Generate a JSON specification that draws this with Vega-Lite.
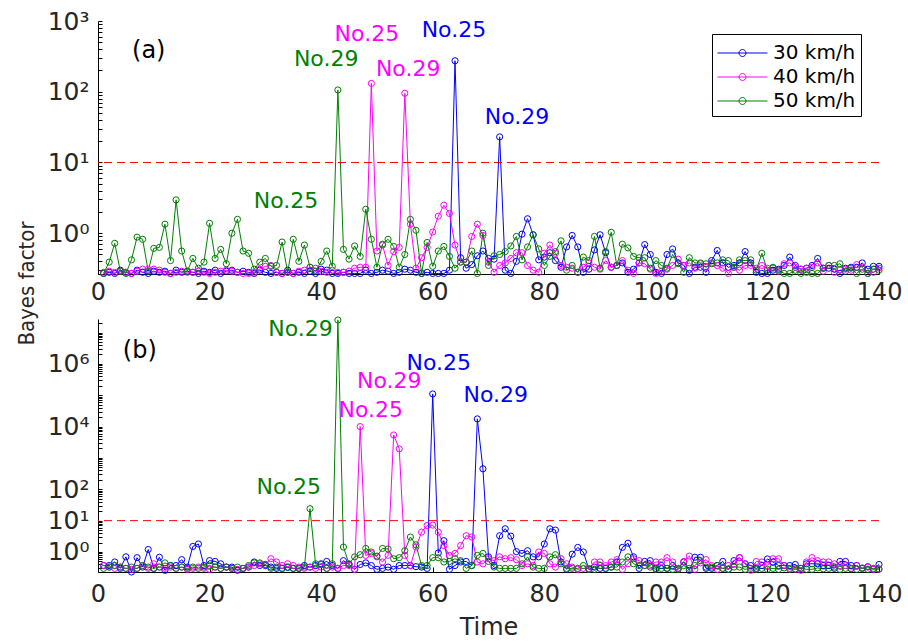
{
  "$schema": "https://vega.github.io/schema/vega-lite/v6.json",
  "padding": {"left": 15, "top": 9, "right": 5, "bottom": 3},
  "bounds": "flush",
  "spacing": 45,
  "config": {
    "view": {"stroke": null},
    "axis": {
      "grid": false,
      "domainColor": "black",
      "tickColor": "black",
      "labelColor": "#262626",
      "labelFont": "DejaVu Sans",
      "labelFontSize": 24,
      "labelFlush": false,
      "labelOverlap": false,
      "labelBound": false,
      "titleFontWeight": "normal",
      "titleColor": "#262626"
    },
    "axisY": {
      "titleFont": "Liberation Sans Narrow, Arial Narrow, DejaVu Sans Condensed, sans-serif",
      "titleFontSize": 22,
      "titleAlign": "center",
      "titleBaseline": "bottom",
      "titleAngle": 270,
      "titleX": -60,
      "titleY": 262
    }
  },
  "datasets": {
    "a": [
      {"t":1,"30 km/h":0.27,"40 km/h":0.28,"50 km/h":0.27},{"t":2,"30 km/h":0.28,"40 km/h":0.29,"50 km/h":0.39},{"t":3,"30 km/h":0.27,"40 km/h":0.28,"50 km/h":0.72},{"t":4,"30 km/h":0.30,"40 km/h":0.29,"50 km/h":0.29},{"t":5,"30 km/h":0.28,"40 km/h":0.28,"50 km/h":0.27},
      {"t":6,"30 km/h":0.27,"40 km/h":0.27,"50 km/h":0.42},{"t":7,"30 km/h":0.30,"40 km/h":0.29,"50 km/h":0.88},{"t":8,"30 km/h":0.28,"40 km/h":0.31,"50 km/h":0.82},{"t":9,"30 km/h":0.27,"40 km/h":0.31,"50 km/h":0.29},{"t":10,"30 km/h":0.29,"40 km/h":0.31,"50 km/h":0.61},
      {"t":11,"30 km/h":0.28,"40 km/h":0.30,"50 km/h":0.63},{"t":12,"30 km/h":0.29,"40 km/h":0.28,"50 km/h":1.34},{"t":13,"30 km/h":0.27,"40 km/h":0.27,"50 km/h":0.41},{"t":14,"30 km/h":0.30,"40 km/h":0.28,"50 km/h":2.96},{"t":15,"30 km/h":0.28,"40 km/h":0.29,"50 km/h":0.56},
      {"t":16,"30 km/h":0.29,"40 km/h":0.28,"50 km/h":0.29},{"t":17,"30 km/h":0.28,"40 km/h":0.28,"50 km/h":0.44},{"t":18,"30 km/h":0.27,"40 km/h":0.29,"50 km/h":0.32},{"t":19,"30 km/h":0.29,"40 km/h":0.28,"50 km/h":0.39},{"t":20,"30 km/h":0.28,"40 km/h":0.27,"50 km/h":1.38},
      {"t":21,"30 km/h":0.30,"40 km/h":0.28,"50 km/h":0.44},{"t":22,"30 km/h":0.27,"40 km/h":0.29,"50 km/h":0.59},{"t":23,"30 km/h":0.29,"40 km/h":0.30,"50 km/h":0.37},{"t":24,"30 km/h":0.30,"40 km/h":0.29,"50 km/h":1.0},{"t":25,"30 km/h":0.28,"40 km/h":0.28,"50 km/h":1.57},
      {"t":26,"30 km/h":0.29,"40 km/h":0.27,"50 km/h":0.56},{"t":27,"30 km/h":0.28,"40 km/h":0.27,"50 km/h":0.52},{"t":28,"30 km/h":0.27,"40 km/h":0.28,"50 km/h":0.31},{"t":29,"30 km/h":0.30,"40 km/h":0.31,"50 km/h":0.39},{"t":30,"30 km/h":0.28,"40 km/h":0.34,"50 km/h":0.44},
      {"t":31,"30 km/h":0.27,"40 km/h":0.35,"50 km/h":0.34},{"t":32,"30 km/h":0.28,"40 km/h":0.28,"50 km/h":0.35},{"t":33,"30 km/h":0.27,"40 km/h":0.27,"50 km/h":0.75},{"t":34,"30 km/h":0.30,"40 km/h":0.28,"50 km/h":0.28},{"t":35,"30 km/h":0.27,"40 km/h":0.27,"50 km/h":0.82},
      {"t":36,"30 km/h":0.28,"40 km/h":0.29,"50 km/h":0.40},{"t":37,"30 km/h":0.27,"40 km/h":0.30,"50 km/h":0.68},{"t":38,"30 km/h":0.29,"40 km/h":0.33,"50 km/h":0.33},{"t":39,"30 km/h":0.27,"40 km/h":0.32,"50 km/h":0.29},{"t":40,"30 km/h":0.31,"40 km/h":0.29,"50 km/h":0.40},
      {"t":41,"30 km/h":0.30,"40 km/h":0.28,"50 km/h":0.56},{"t":42,"30 km/h":0.27,"40 km/h":0.30,"50 km/h":0.34},{"t":43,"30 km/h":0.27,"40 km/h":0.28,"50 km/h":106},{"t":44,"30 km/h":0.28,"40 km/h":0.28,"50 km/h":0.59},{"t":45,"30 km/h":0.27,"40 km/h":0.29,"50 km/h":0.43},
      {"t":46,"30 km/h":0.27,"40 km/h":0.32,"50 km/h":0.66},{"t":47,"30 km/h":0.27,"40 km/h":0.33,"50 km/h":0.47},{"t":48,"30 km/h":0.30,"40 km/h":0.33,"50 km/h":2.18},{"t":49,"30 km/h":0.27,"40 km/h":131,"50 km/h":0.82},{"t":50,"30 km/h":0.28,"40 km/h":0.56,"50 km/h":0.33},
      {"t":51,"30 km/h":0.30,"40 km/h":0.68,"50 km/h":0.70},{"t":52,"30 km/h":0.29,"40 km/h":0.35,"50 km/h":0.82},{"t":53,"30 km/h":0.27,"40 km/h":0.55,"50 km/h":0.65},{"t":54,"30 km/h":0.28,"40 km/h":0.63,"50 km/h":0.33},{"t":55,"30 km/h":0.31,"40 km/h":95,"50 km/h":0.50},
      {"t":56,"30 km/h":0.30,"40 km/h":1.34,"50 km/h":1.57},{"t":57,"30 km/h":0.28,"40 km/h":0.32,"50 km/h":1.1},{"t":58,"30 km/h":0.27,"40 km/h":0.45,"50 km/h":0.27},{"t":59,"30 km/h":0.28,"40 km/h":0.63,"50 km/h":0.74},{"t":60,"30 km/h":0.27,"40 km/h":1.04,"50 km/h":0.34},
      {"t":61,"30 km/h":0.27,"40 km/h":1.74,"50 km/h":0.56},{"t":62,"30 km/h":0.27,"40 km/h":2.49,"50 km/h":0.65},{"t":63,"30 km/h":0.30,"40 km/h":1.9,"50 km/h":0.47},{"t":64,"30 km/h":274,"40 km/h":0.68,"50 km/h":0.32},{"t":65,"30 km/h":0.45,"40 km/h":0.39,"50 km/h":0.39},
      {"t":66,"30 km/h":0.32,"40 km/h":0.39,"50 km/h":0.39},{"t":67,"30 km/h":0.36,"40 km/h":0.9,"50 km/h":0.56},{"t":68,"30 km/h":0.48,"40 km/h":1.34,"50 km/h":0.27},{"t":69,"30 km/h":0.56,"40 km/h":0.93,"50 km/h":1.0},{"t":70,"30 km/h":0.44,"40 km/h":0.39,"50 km/h":0.35},
      {"t":71,"30 km/h":0.43,"40 km/h":0.28,"50 km/h":0.48},{"t":72,"30 km/h":23,"40 km/h":0.35,"50 km/h":0.50},{"t":73,"30 km/h":0.30,"40 km/h":0.38,"50 km/h":0.55},{"t":74,"30 km/h":0.27,"40 km/h":0.44,"50 km/h":0.66},{"t":75,"30 km/h":0.40,"40 km/h":0.53,"50 km/h":0.9},
      {"t":76,"30 km/h":0.97,"40 km/h":0.53,"50 km/h":0.42},{"t":77,"30 km/h":1.6,"40 km/h":0.35,"50 km/h":0.64},{"t":78,"30 km/h":0.95,"40 km/h":0.30,"50 km/h":0.95},{"t":79,"30 km/h":0.42,"40 km/h":0.28,"50 km/h":0.60},{"t":80,"30 km/h":0.46,"40 km/h":0.52,"50 km/h":0.35},
      {"t":81,"30 km/h":0.53,"40 km/h":0.68,"50 km/h":0.47},{"t":82,"30 km/h":0.41,"40 km/h":0.52,"50 km/h":0.55},{"t":83,"30 km/h":0.33,"40 km/h":0.35,"50 km/h":0.78},{"t":84,"30 km/h":0.64,"40 km/h":0.33,"50 km/h":0.30},{"t":85,"30 km/h":0.93,"40 km/h":0.32,"50 km/h":0.35},
      {"t":86,"30 km/h":0.64,"40 km/h":0.28,"50 km/h":0.28},{"t":87,"30 km/h":0.28,"40 km/h":0.33,"50 km/h":0.46},{"t":88,"30 km/h":0.31,"40 km/h":0.38,"50 km/h":0.41},{"t":89,"30 km/h":0.58,"40 km/h":0.33,"50 km/h":0.9},{"t":90,"30 km/h":0.95,"40 km/h":0.31,"50 km/h":0.32},
      {"t":91,"30 km/h":0.53,"40 km/h":0.41,"50 km/h":0.55},{"t":92,"30 km/h":0.33,"40 km/h":0.33,"50 km/h":1.03},{"t":93,"30 km/h":0.35,"40 km/h":0.35,"50 km/h":0.35},{"t":94,"30 km/h":0.38,"40 km/h":0.41,"50 km/h":0.70},{"t":95,"30 km/h":0.28,"40 km/h":0.30,"50 km/h":0.62},
      {"t":96,"30 km/h":0.31,"40 km/h":0.27,"50 km/h":0.47},{"t":97,"30 km/h":0.38,"40 km/h":0.38,"50 km/h":0.45},{"t":98,"30 km/h":0.69,"40 km/h":0.37,"50 km/h":0.45},{"t":99,"30 km/h":0.50,"40 km/h":0.31,"50 km/h":0.32},{"t":100,"30 km/h":0.28,"40 km/h":0.27,"50 km/h":0.41},
      {"t":101,"30 km/h":0.27,"40 km/h":0.29,"50 km/h":0.35},{"t":102,"30 km/h":0.50,"40 km/h":0.31,"50 km/h":0.32},{"t":103,"30 km/h":0.60,"40 km/h":0.35,"50 km/h":0.50},{"t":104,"30 km/h":0.38,"40 km/h":0.43,"50 km/h":0.37},{"t":105,"30 km/h":0.35,"40 km/h":0.35,"50 km/h":0.28},
      {"t":106,"30 km/h":0.27,"40 km/h":0.38,"50 km/h":0.45},{"t":107,"30 km/h":0.33,"40 km/h":0.32,"50 km/h":0.38},{"t":108,"30 km/h":0.33,"40 km/h":0.37,"50 km/h":0.38},{"t":109,"30 km/h":0.28,"40 km/h":0.33,"50 km/h":0.37},{"t":110,"30 km/h":0.41,"40 km/h":0.38,"50 km/h":0.37},
      {"t":111,"30 km/h":0.57,"40 km/h":0.35,"50 km/h":0.38},{"t":112,"30 km/h":0.38,"40 km/h":0.32,"50 km/h":0.42},{"t":113,"30 km/h":0.33,"40 km/h":0.27,"50 km/h":0.41},{"t":114,"30 km/h":0.35,"40 km/h":0.33,"50 km/h":0.33},{"t":115,"30 km/h":0.38,"40 km/h":0.30,"50 km/h":0.42},
      {"t":116,"30 km/h":0.55,"40 km/h":0.35,"50 km/h":0.41},{"t":117,"30 km/h":0.38,"40 km/h":0.35,"50 km/h":0.42},{"t":118,"30 km/h":0.28,"40 km/h":0.32,"50 km/h":0.30},{"t":119,"30 km/h":0.27,"40 km/h":0.35,"50 km/h":0.52},{"t":120,"30 km/h":0.27,"40 km/h":0.32,"50 km/h":0.30},
      {"t":121,"30 km/h":0.30,"40 km/h":0.32,"50 km/h":0.33},{"t":122,"30 km/h":0.31,"40 km/h":0.29,"50 km/h":0.30},{"t":123,"30 km/h":0.35,"40 km/h":0.37,"50 km/h":0.27},{"t":124,"30 km/h":0.46,"40 km/h":0.38,"50 km/h":0.27},{"t":125,"30 km/h":0.35,"40 km/h":0.33,"50 km/h":0.30},
      {"t":126,"30 km/h":0.31,"40 km/h":0.31,"50 km/h":0.27},{"t":127,"30 km/h":0.32,"40 km/h":0.32,"50 km/h":0.28},{"t":128,"30 km/h":0.35,"40 km/h":0.33,"50 km/h":0.27},{"t":129,"30 km/h":0.44,"40 km/h":0.38,"50 km/h":0.27},{"t":130,"30 km/h":0.32,"40 km/h":0.29,"50 km/h":0.32},
      {"t":131,"30 km/h":0.32,"40 km/h":0.35,"50 km/h":0.35},{"t":132,"30 km/h":0.31,"40 km/h":0.28,"50 km/h":0.35},{"t":133,"30 km/h":0.27,"40 km/h":0.30,"50 km/h":0.37},{"t":134,"30 km/h":0.32,"40 km/h":0.31,"50 km/h":0.29},{"t":135,"30 km/h":0.33,"40 km/h":0.30,"50 km/h":0.32},
      {"t":136,"30 km/h":0.33,"40 km/h":0.36,"50 km/h":0.27},{"t":137,"30 km/h":0.38,"40 km/h":0.33,"50 km/h":0.31},{"t":138,"30 km/h":0.31,"40 km/h":0.27,"50 km/h":0.27},{"t":139,"30 km/h":0.34,"40 km/h":0.28,"50 km/h":0.31},{"t":140,"30 km/h":0.34,"40 km/h":0.32,"50 km/h":0.30}
    ],
    "b": [
      {"t":1,"30 km/h":0.37,"40 km/h":0.37,"50 km/h":0.30},{"t":2,"30 km/h":0.37,"40 km/h":0.33,"50 km/h":0.33},{"t":3,"30 km/h":0.48,"40 km/h":0.30,"50 km/h":0.37},{"t":4,"30 km/h":0.30,"40 km/h":0.33,"50 km/h":0.33},{"t":5,"30 km/h":0.70,"40 km/h":0.30,"50 km/h":0.30},
      {"t":6,"30 km/h":0.23,"40 km/h":0.28,"50 km/h":0.33},{"t":7,"30 km/h":0.66,"40 km/h":0.30,"50 km/h":0.30},{"t":8,"30 km/h":0.33,"40 km/h":0.37,"50 km/h":0.37},{"t":9,"30 km/h":1.2,"40 km/h":0.30,"50 km/h":0.33},{"t":10,"30 km/h":0.30,"40 km/h":0.42,"50 km/h":0.30},
      {"t":11,"30 km/h":0.68,"40 km/h":0.33,"50 km/h":0.33},{"t":12,"30 km/h":0.26,"40 km/h":0.30,"50 km/h":0.45},{"t":13,"30 km/h":0.37,"40 km/h":0.33,"50 km/h":0.37},{"t":14,"30 km/h":0.37,"40 km/h":0.30,"50 km/h":0.30},{"t":15,"30 km/h":0.57,"40 km/h":0.33,"50 km/h":0.33},
      {"t":16,"30 km/h":0.33,"40 km/h":0.28,"50 km/h":0.30},{"t":17,"30 km/h":1.5,"40 km/h":0.30,"50 km/h":0.33},{"t":18,"30 km/h":1.8,"40 km/h":0.33,"50 km/h":0.30},{"t":19,"30 km/h":0.37,"40 km/h":0.30,"50 km/h":0.33},{"t":20,"30 km/h":0.53,"40 km/h":0.28,"50 km/h":0.37},
      {"t":21,"30 km/h":0.50,"40 km/h":0.33,"50 km/h":0.33},{"t":22,"30 km/h":0.42,"40 km/h":0.30,"50 km/h":0.30},{"t":23,"30 km/h":0.33,"40 km/h":0.33,"50 km/h":0.33},{"t":24,"30 km/h":0.33,"40 km/h":0.30,"50 km/h":0.30},{"t":25,"30 km/h":0.26,"40 km/h":0.28,"50 km/h":0.33},
      {"t":26,"30 km/h":0.30,"40 km/h":0.30,"50 km/h":0.30},{"t":27,"30 km/h":0.33,"40 km/h":0.33,"50 km/h":0.37},{"t":28,"30 km/h":0.48,"40 km/h":0.37,"50 km/h":0.45},{"t":29,"30 km/h":0.37,"40 km/h":0.42,"50 km/h":0.45},{"t":30,"30 km/h":0.37,"40 km/h":0.40,"50 km/h":0.40},
      {"t":31,"30 km/h":0.33,"40 km/h":0.61,"50 km/h":0.30},{"t":32,"30 km/h":0.30,"40 km/h":0.48,"50 km/h":0.33},{"t":33,"30 km/h":0.30,"40 km/h":0.37,"50 km/h":0.30},{"t":34,"30 km/h":0.32,"40 km/h":0.42,"50 km/h":0.33},{"t":35,"30 km/h":0.30,"40 km/h":0.37,"50 km/h":0.30},
      {"t":36,"30 km/h":0.30,"40 km/h":0.33,"50 km/h":0.30},{"t":37,"30 km/h":0.37,"40 km/h":0.30,"50 km/h":0.33},{"t":38,"30 km/h":0.33,"40 km/h":0.33,"50 km/h":24},{"t":39,"30 km/h":0.37,"40 km/h":0.30,"50 km/h":0.42},{"t":40,"30 km/h":0.42,"40 km/h":0.33,"50 km/h":0.40},
      {"t":41,"30 km/h":0.50,"40 km/h":0.30,"50 km/h":0.30},{"t":42,"30 km/h":0.37,"40 km/h":0.33,"50 km/h":0.42},{"t":43,"30 km/h":0.30,"40 km/h":0.30,"50 km/h":25000000},{"t":44,"30 km/h":0.53,"40 km/h":0.37,"50 km/h":1.44},{"t":45,"30 km/h":0.40,"40 km/h":0.37,"50 km/h":0.42},
      {"t":46,"30 km/h":0.28,"40 km/h":0.28,"50 km/h":0.70},{"t":47,"30 km/h":0.40,"40 km/h":10000,"50 km/h":0.82},{"t":48,"30 km/h":0.45,"40 km/h":0.78,"50 km/h":1.3},{"t":49,"30 km/h":0.37,"40 km/h":0.9,"50 km/h":1.0},{"t":50,"30 km/h":0.28,"40 km/h":0.70,"50 km/h":0.74},
      {"t":51,"30 km/h":0.30,"40 km/h":0.48,"50 km/h":1.3},{"t":52,"30 km/h":0.33,"40 km/h":0.78,"50 km/h":1.25},{"t":53,"30 km/h":0.28,"40 km/h":5400,"50 km/h":0.61},{"t":54,"30 km/h":0.37,"40 km/h":1950,"50 km/h":0.66},{"t":55,"30 km/h":0.37,"40 km/h":0.78,"50 km/h":1.1},
      {"t":56,"30 km/h":0.37,"40 km/h":0.37,"50 km/h":3.0},{"t":57,"30 km/h":0.34,"40 km/h":1.44,"50 km/h":1.7},{"t":58,"30 km/h":0.33,"40 km/h":4.3,"50 km/h":0.37},{"t":59,"30 km/h":0.30,"40 km/h":7.0,"50 km/h":0.37},{"t":60,"30 km/h":110000,"40 km/h":7.2,"50 km/h":0.66},
      {"t":61,"30 km/h":0.93,"40 km/h":4.3,"50 km/h":0.66},{"t":62,"30 km/h":2.3,"40 km/h":1.6,"50 km/h":0.48},{"t":63,"30 km/h":0.28,"40 km/h":0.78,"50 km/h":0.50},{"t":64,"30 km/h":0.37,"40 km/h":0.9,"50 km/h":0.61},{"t":65,"30 km/h":0.48,"40 km/h":1.6,"50 km/h":0.53},
      {"t":66,"30 km/h":0.50,"40 km/h":3.3,"50 km/h":0.30},{"t":67,"30 km/h":0.37,"40 km/h":3.0,"50 km/h":0.37},{"t":68,"30 km/h":17600,"40 km/h":0.48,"50 km/h":0.78},{"t":69,"30 km/h":450,"40 km/h":0.42,"50 km/h":0.9},{"t":70,"30 km/h":0.70,"40 km/h":0.61,"50 km/h":0.50},
      {"t":71,"30 km/h":0.37,"40 km/h":0.53,"50 km/h":0.33},{"t":72,"30 km/h":3.3,"40 km/h":0.70,"50 km/h":0.30},{"t":73,"30 km/h":5.5,"40 km/h":0.61,"50 km/h":0.30},{"t":74,"30 km/h":3.2,"40 km/h":0.66,"50 km/h":0.30},{"t":75,"30 km/h":1.03,"40 km/h":0.57,"50 km/h":0.30},
      {"t":76,"30 km/h":0.9,"40 km/h":0.37,"50 km/h":0.42},{"t":77,"30 km/h":1.1,"40 km/h":0.42,"50 km/h":0.70},{"t":78,"30 km/h":0.7,"40 km/h":0.37,"50 km/h":0.33},{"t":79,"30 km/h":0.7,"40 km/h":1.0,"50 km/h":0.30},{"t":80,"30 km/h":1.8,"40 km/h":0.9,"50 km/h":0.30},
      {"t":81,"30 km/h":5.5,"40 km/h":0.42,"50 km/h":0.70},{"t":82,"30 km/h":5.0,"40 km/h":0.33,"50 km/h":0.82},{"t":83,"30 km/h":0.48,"40 km/h":0.61,"50 km/h":0.42},{"t":84,"30 km/h":0.28,"40 km/h":0.42,"50 km/h":0.30},{"t":85,"30 km/h":0.85,"40 km/h":0.33,"50 km/h":0.30},
      {"t":86,"30 km/h":1.4,"40 km/h":0.28,"50 km/h":0.30},{"t":87,"30 km/h":1.0,"40 km/h":0.30,"50 km/h":0.37},{"t":88,"30 km/h":0.28,"40 km/h":0.30,"50 km/h":0.28},{"t":89,"30 km/h":0.33,"40 km/h":0.48,"50 km/h":0.28},{"t":90,"30 km/h":0.30,"40 km/h":0.48,"50 km/h":0.37},
      {"t":91,"30 km/h":0.30,"40 km/h":0.37,"50 km/h":0.30},{"t":92,"30 km/h":0.33,"40 km/h":0.48,"50 km/h":0.33},{"t":93,"30 km/h":0.48,"40 km/h":0.57,"50 km/h":0.33},{"t":94,"30 km/h":1.4,"40 km/h":0.28,"50 km/h":0.48},{"t":95,"30 km/h":1.9,"40 km/h":0.42,"50 km/h":0.70},
      {"t":96,"30 km/h":0.7,"40 km/h":0.61,"50 km/h":0.42},{"t":97,"30 km/h":0.30,"40 km/h":0.53,"50 km/h":0.37},{"t":98,"30 km/h":0.50,"40 km/h":0.37,"50 km/h":0.37},{"t":99,"30 km/h":0.53,"40 km/h":0.37,"50 km/h":0.33},{"t":100,"30 km/h":0.30,"40 km/h":0.48,"50 km/h":0.28},
      {"t":101,"30 km/h":0.37,"40 km/h":0.48,"50 km/h":0.30},{"t":102,"30 km/h":0.30,"40 km/h":0.66,"50 km/h":0.30},{"t":103,"30 km/h":0.37,"40 km/h":0.48,"50 km/h":0.28},{"t":104,"30 km/h":0.30,"40 km/h":0.30,"50 km/h":0.28},{"t":105,"30 km/h":0.48,"40 km/h":0.50,"50 km/h":0.37},
      {"t":106,"30 km/h":0.26,"40 km/h":0.74,"50 km/h":0.30},{"t":107,"30 km/h":0.68,"40 km/h":0.28,"50 km/h":0.37},{"t":108,"30 km/h":0.68,"40 km/h":0.45,"50 km/h":0.53},{"t":109,"30 km/h":0.30,"40 km/h":0.57,"50 km/h":0.33},{"t":110,"30 km/h":0.30,"40 km/h":0.37,"50 km/h":0.33},
      {"t":111,"30 km/h":0.37,"40 km/h":0.28,"50 km/h":0.37},{"t":112,"30 km/h":0.50,"40 km/h":0.30,"50 km/h":0.30},{"t":113,"30 km/h":0.28,"40 km/h":0.37,"50 km/h":0.28},{"t":114,"30 km/h":0.53,"40 km/h":0.42,"50 km/h":0.33},{"t":115,"30 km/h":0.66,"40 km/h":0.66,"50 km/h":0.33},
      {"t":116,"30 km/h":0.42,"40 km/h":0.42,"50 km/h":0.28},{"t":117,"30 km/h":0.37,"40 km/h":0.26,"50 km/h":0.30},{"t":118,"30 km/h":0.30,"40 km/h":0.50,"50 km/h":0.28},{"t":119,"30 km/h":0.37,"40 km/h":0.48,"50 km/h":0.30},{"t":120,"30 km/h":0.60,"40 km/h":0.37,"50 km/h":0.28},
      {"t":121,"30 km/h":0.48,"40 km/h":0.61,"50 km/h":0.30},{"t":122,"30 km/h":0.37,"40 km/h":0.61,"50 km/h":0.28},{"t":123,"30 km/h":0.37,"40 km/h":0.37,"50 km/h":0.31},{"t":124,"30 km/h":0.37,"40 km/h":0.30,"50 km/h":0.28},{"t":125,"30 km/h":0.40,"40 km/h":0.28,"50 km/h":0.29},
      {"t":126,"30 km/h":0.30,"40 km/h":0.26,"50 km/h":0.30},{"t":127,"30 km/h":0.42,"40 km/h":0.48,"50 km/h":0.28},{"t":128,"30 km/h":0.42,"40 km/h":0.66,"50 km/h":0.28},{"t":129,"30 km/h":0.42,"40 km/h":0.53,"50 km/h":0.31},{"t":130,"30 km/h":0.37,"40 km/h":0.48,"50 km/h":0.29},
      {"t":131,"30 km/h":0.37,"40 km/h":0.48,"50 km/h":0.30},{"t":132,"30 km/h":0.30,"40 km/h":0.42,"50 km/h":0.33},{"t":133,"30 km/h":0.50,"40 km/h":0.37,"50 km/h":0.28},{"t":134,"30 km/h":0.50,"40 km/h":0.37,"50 km/h":0.30},{"t":135,"30 km/h":0.37,"40 km/h":0.30,"50 km/h":0.29},
      {"t":136,"30 km/h":0.37,"40 km/h":0.37,"50 km/h":0.28},{"t":137,"30 km/h":0.30,"40 km/h":0.30,"50 km/h":0.31},{"t":138,"30 km/h":0.34,"40 km/h":0.33,"50 km/h":0.28},{"t":139,"30 km/h":0.28,"40 km/h":0.28,"50 km/h":0.30},{"t":140,"30 km/h":0.40,"40 km/h":0.28,"50 km/h":0.29}
    ],
    "ann": [
      {"panel":"a","t":40.9,"value":289,"series":"50 km/h","label":"No.29"},
      {"panel":"a","t":48.2,"value":653,"series":"40 km/h","label":"No.25"},
      {"panel":"a","t":55.6,"value":209,"series":"40 km/h","label":"No.29"},
      {"panel":"a","t":63.8,"value":743,"series":"30 km/h","label":"No.25"},
      {"panel":"a","t":75.1,"value":43.6,"series":"30 km/h","label":"No.29"},
      {"panel":"a","t":33.7,"value":2.84,"series":"50 km/h","label":"No.25"},
      {"panel":"b","t":36.3,"value":13000000,"series":"50 km/h","label":"No.29"},
      {"panel":"b","t":61.1,"value":1070000,"series":"30 km/h","label":"No.25"},
      {"panel":"b","t":52.2,"value":290000,"series":"40 km/h","label":"No.29"},
      {"panel":"b","t":48.9,"value":34000,"series":"40 km/h","label":"No.25"},
      {"panel":"b","t":71.3,"value":100000,"series":"30 km/h","label":"No.29"},
      {"panel":"b","t":34.2,"value":120,"series":"50 km/h","label":"No.25"}
    ],
    "tags": [
      {"panel":"a","t":9.1,"value":375,"label":"(a)"},
      {"panel":"b","t":7.5,"value":2600000,"label":"(b)"}
    ]
  },
  "vconcat": [
    {
      "width": 781,
      "height": 253,
      "layer": [
        {
          "data": {"name": "a"},
          "transform": [{"fold": ["30 km/h", "40 km/h", "50 km/h"], "as": ["series", "value"]}],
          "mark": {"type": "line", "strokeWidth": 1, "point": {"filled": false, "size": 38, "strokeWidth": 1}},
          "encoding": {
            "x": {"field": "t", "type": "quantitative", "scale": {"domain": [0, 140], "nice": false},
                  "axis": {"title": null, "values": [0, 20, 40, 60, 80, 100, 120, 140], "tickSize": -5, "labelPadding": 11}},
            "y": {"field": "value", "type": "quantitative", "scale": {"type": "log", "domain": [0.265, 1000], "nice": false},
                  "axis": {"title": "Bayes factor",
                           "values": [0.3,0.4,0.5,0.6,0.7,0.8,0.9,1,2,3,4,5,6,7,8,9,10,20,30,40,50,60,70,80,90,100,200,300,400,500,600,700,800,900,1000],
                           "labelExpr": "datum.value == 1 ? '10⁰' : datum.value == 10 ? '10¹' : datum.value == 100 ? '10²' : datum.value == 1000 ? '10³' : ''",
                           "tickSize": -4, "labelPadding": 13, "labelFontSize": 25}},
            "color": {"field": "series", "type": "nominal",
                      "scale": {"domain": ["30 km/h", "40 km/h", "50 km/h"], "range": ["#0000FF", "#FF00FF", "#008000"]},
                      "legend": {"orient": "none", "legendX": 614, "legendY": 13, "title": null,
                                 "symbolType": "M-1.85,0H1.85M-0.26,0A0.26,0.26,0,1,1,0.26,0A0.26,0.26,0,1,1,-0.26,0",
                                 "symbolSize": 729, "symbolStrokeWidth": 1, "symbolFillColor": "transparent",
                                 "labelFont": "DejaVu Sans", "labelFontSize": 20, "labelColor": "black",
                                 "strokeColor": "black", "fillColor": "white", "padding": 5, "rowPadding": 0,
                                 "symbolOffset": 11.5, "labelOffset": 16.5, "cornerRadius": 0,
                                 "encode": {"symbols": {"update": {"fill": {"value": "transparent"}, "fillOpacity": {"value": 0}}}}}}
          }
        },
        {
          "data": {"values": [{}]},
          "mark": {"type": "rule", "color": "#FF0000", "stroke": "#FF0000", "strokeDash": [8, 5], "strokeWidth": 1},
          "encoding": {
            "y": {"datum": 10, "type": "quantitative", "scale": {"type": "log", "domain": [0.265, 1000], "nice": false}}
          }
        },
        {
          "data": {"name": "ann"},
          "transform": [{"filter": "datum.panel == 'a'"}],
          "mark": {"type": "text", "font": "DejaVu Sans", "fontSize": 22, "baseline": "middle", "align": "center"},
          "encoding": {
            "x": {"field": "t", "type": "quantitative", "scale": {"domain": [0, 140], "nice": false}},
            "y": {"field": "value", "type": "quantitative", "scale": {"type": "log", "domain": [0.265, 1000], "nice": false}},
            "text": {"field": "label"},
            "color": {"field": "series", "type": "nominal", "legend": null}
          }
        },
        {
          "data": {"name": "tags"},
          "transform": [{"filter": "datum.panel == 'a'"}],
          "mark": {"type": "text", "font": "DejaVu Sans", "fontSize": 24, "baseline": "middle", "align": "center", "color": "black"},
          "encoding": {
            "x": {"field": "t", "type": "quantitative", "scale": {"domain": [0, 140], "nice": false}},
            "y": {"field": "value", "type": "quantitative", "scale": {"type": "log", "domain": [0.265, 1000], "nice": false}},
            "text": {"field": "label"}
          }
        }
      ]
    },
    {
      "width": 781,
      "height": 253,
      "layer": [
        {
          "data": {"name": "b"},
          "transform": [{"fold": ["30 km/h", "40 km/h", "50 km/h"], "as": ["series", "value"]}],
          "mark": {"type": "line", "strokeWidth": 1, "point": {"filled": false, "size": 38, "strokeWidth": 1}},
          "encoding": {
            "x": {"field": "t", "type": "quantitative", "scale": {"domain": [0, 140], "nice": false},
                  "axis": {"title": "Time", "titleFont": "DejaVu Sans", "titleFontSize": 24, "titlePadding": 9,
                           "values": [0, 20, 40, 60, 80, 100, 120, 140], "tickSize": -5, "labelPadding": 15}},
            "y": {"field": "value", "type": "quantitative", "scale": {"type": "log", "domain": [0.23, 27000000], "nice": false},
                  "axis": {"title": null,
                           "values": [0.3,0.4,0.5,0.6,0.7,0.8,0.9,1,2,3,4,5,6,7,8,9,10,20,30,40,50,60,70,80,90,100,200,300,400,500,600,700,800,900,1000,2000,3000,4000,5000,6000,7000,8000,9000,10000,20000,30000,40000,50000,60000,70000,80000,90000,100000,200000,300000,400000,500000,600000,700000,800000,900000,1000000,2000000,3000000,4000000,5000000,6000000,7000000,8000000,9000000,10000000,20000000],
                           "labelExpr": "datum.value == 1 ? '10⁰' : datum.value == 10 ? '10¹' : datum.value == 100 ? '10²' : datum.value == 10000 ? '10⁴' : datum.value == 1000000 ? '10⁶' : ''",
                           "tickSize": -4, "labelPadding": 13, "labelFontSize": 25}},
            "color": {"field": "series", "type": "nominal",
                      "scale": {"domain": ["30 km/h", "40 km/h", "50 km/h"], "range": ["#0000FF", "#FF00FF", "#008000"]},
                      "legend": null}
          }
        },
        {
          "data": {"values": [{}]},
          "mark": {"type": "rule", "color": "#FF0000", "stroke": "#FF0000", "strokeDash": [8, 5], "strokeWidth": 1},
          "encoding": {
            "y": {"datum": 10, "type": "quantitative", "scale": {"type": "log", "domain": [0.23, 27000000], "nice": false}}
          }
        },
        {
          "data": {"name": "ann"},
          "transform": [{"filter": "datum.panel == 'b'"}],
          "mark": {"type": "text", "font": "DejaVu Sans", "fontSize": 22, "baseline": "middle", "align": "center"},
          "encoding": {
            "x": {"field": "t", "type": "quantitative", "scale": {"domain": [0, 140], "nice": false}},
            "y": {"field": "value", "type": "quantitative", "scale": {"type": "log", "domain": [0.23, 27000000], "nice": false}},
            "text": {"field": "label"},
            "color": {"field": "series", "type": "nominal", "legend": null}
          }
        },
        {
          "data": {"name": "tags"},
          "transform": [{"filter": "datum.panel == 'b'"}],
          "mark": {"type": "text", "font": "DejaVu Sans", "fontSize": 24, "baseline": "middle", "align": "center", "color": "black"},
          "encoding": {
            "x": {"field": "t", "type": "quantitative", "scale": {"domain": [0, 140], "nice": false}},
            "y": {"field": "value", "type": "quantitative", "scale": {"type": "log", "domain": [0.23, 27000000], "nice": false}},
            "text": {"field": "label"}
          }
        }
      ]
    }
  ]
}
